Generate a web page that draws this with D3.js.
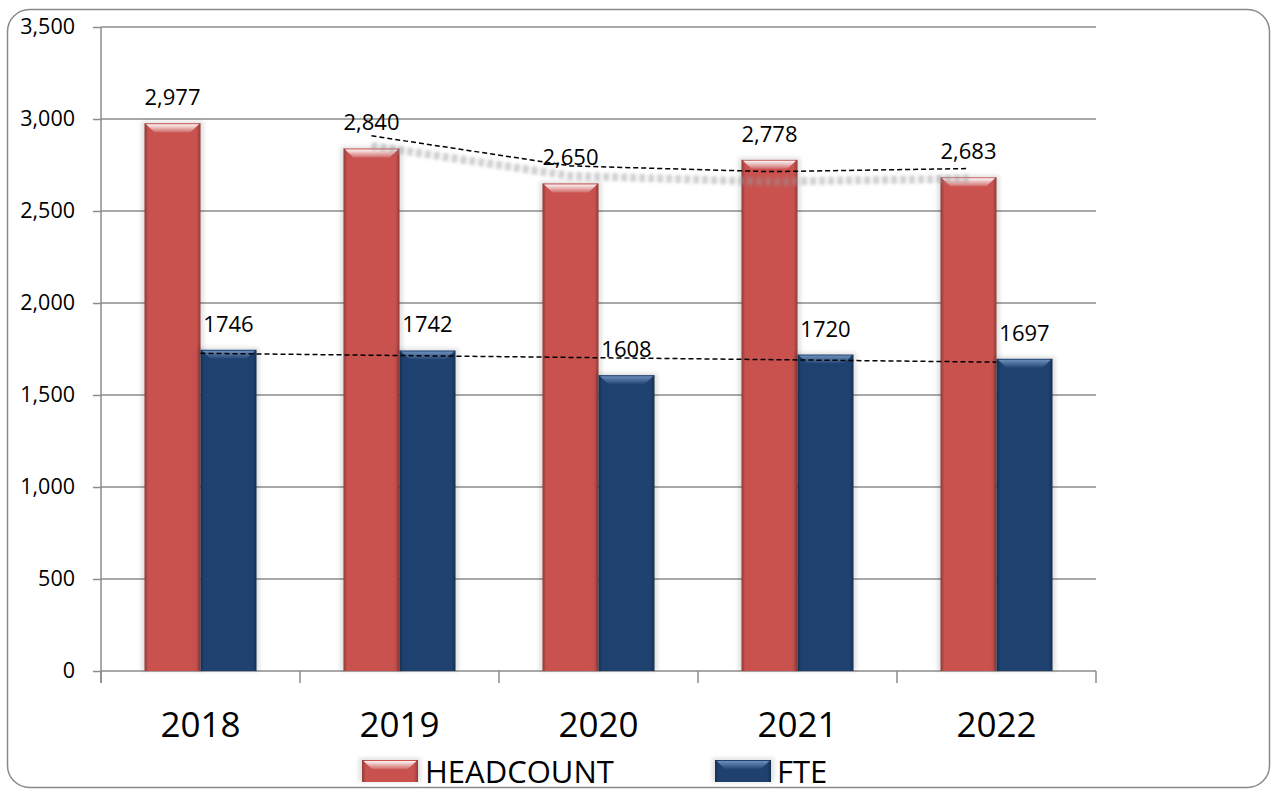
<!DOCTYPE html>
<html>
<head>
<meta charset="utf-8">
<script src="https://cdn.jsdelivr.net/npm/d3@7"></script>
<style>
  html, body { margin: 0; padding: 0; background: #ffffff; }
  svg { display: block; }
  text { font-family: "Open Sans", "Noto Sans", sans-serif; fill: #000; }
</style>
</head>
<body>
<svg id="chart" width="1273" height="791"></svg>
<script>
// ---- data ----
const years = ["2018", "2019", "2020", "2021", "2022"];
const headcount = [2977, 2840, 2650, 2778, 2683];
const fte = [1746, 1742, 1608, 1720, 1697];
const yTicks = [0, 500, 1000, 1500, 2000, 2500, 3000, 3500];
const seriesNames = ["HEADCOUNT", "FTE"];

const W = 1273, H = 791;
const plot = { left: 101, right: 1096, top: 27, bottom: 671 };

const svg = d3.select("#chart");
const defs = svg.append("defs");

// gradients
function hGrad(id, edge, mid) {
  const g = defs.append("linearGradient").attr("id", id).attr("x1", "0").attr("x2", "1").attr("y1", "0").attr("y2", "0");
  [[0, edge], [0.07, mid], [0.93, mid], [1, edge]].forEach(([o, c]) =>
    g.append("stop").attr("offset", o).attr("stop-color", c));
}
hGrad("redGrad", "#8f3b39", "#c9524f");
hGrad("blueGrad", "#15304f", "#1f4170");
function vGrad(id, c, a1, a2) {
  const g = defs.append("linearGradient").attr("id", id).attr("x1", "0").attr("x2", "0").attr("y1", "0").attr("y2", "1");
  g.append("stop").attr("offset", 0).attr("stop-color", c).attr("stop-opacity", a1);
  g.append("stop").attr("offset", 1).attr("stop-color", c).attr("stop-opacity", a2);
}
vGrad("redBevel", "#ffffff", 0.95, 0.15);
vGrad("blueBevel", "#8fb0dc", 0.7, 0.05);
defs.append("filter").attr("id", "blur").attr("x", "-20%").attr("y", "-20%").attr("width", "140%").attr("height", "140%")
  .append("feGaussianBlur").attr("stdDeviation", 2);
defs.append("filter").attr("id", "blurS").attr("x", "-20%").attr("y", "-50%").attr("width", "140%").attr("height", "200%")
  .append("feGaussianBlur").attr("stdDeviation", 1.6);

// outer border
svg.append("rect")
  .attr("x", 7.5).attr("y", 9.5).attr("width", 1262).attr("height", 778)
  .attr("rx", 22).attr("ry", 22)
  .attr("fill", "#fff").attr("stroke", "#8a8a8a").attr("stroke-width", 1.5);

// scales
const x = d3.scaleBand().domain(years).range([plot.left, plot.right])
  .paddingInner(0.437).paddingOuter(0.437 / 2);
const xs = d3.scaleBand().domain(seriesNames).range([0, x.bandwidth()]);
const y = d3.scaleLinear().domain([0, 3500]).range([plot.bottom, plot.top]);
const xc = d3.scaleBand().domain(years).range([plot.left, plot.right]); // category slots

// grid lines
svg.append("g").selectAll("line").data(yTicks.filter(d => d > 0)).join("line")
  .attr("x1", plot.left).attr("x2", plot.right)
  .attr("y1", d => y(d)).attr("y2", d => y(d))
  .attr("stroke", "#8c8c8c").attr("stroke-width", 1.5);

// y axis
const yAxis = svg.append("g").attr("transform", `translate(${plot.left},0)`)
  .call(d3.axisLeft(y).tickValues(yTicks).tickFormat(d3.format(",")).tickSize(8).tickPadding(18));
yAxis.select(".domain").attr("stroke", "#8c8c8c").attr("stroke-width", 1.5).attr("d", `M0,${plot.top}V${plot.bottom + 12}`);
yAxis.selectAll(".tick line").attr("stroke", "#8c8c8c").attr("stroke-width", 1.5);
yAxis.selectAll(".tick text").attr("font-size", 21.5).attr("font-family", "Open Sans").attr("fill", "#000");

// x axis
const boundaries = years.map(d => xc(d)).concat([plot.right]);
svg.append("line").attr("x1", plot.left).attr("x2", plot.right).attr("y1", plot.bottom).attr("y2", plot.bottom)
  .attr("stroke", "#8c8c8c").attr("stroke-width", 1.5);
svg.append("g").selectAll("line").data(boundaries).join("line")
  .attr("x1", d => d).attr("x2", d => d).attr("y1", plot.bottom).attr("y2", plot.bottom + 12)
  .attr("stroke", "#8c8c8c").attr("stroke-width", 1.5);
svg.append("g").selectAll("text").data(years).join("text")
  .attr("x", d => xc(d) + xc.bandwidth() / 2).attr("y", 737)
  .attr("text-anchor", "middle").attr("font-size", 35).text(d => d);

// bar drawing
function drawBar(g, bx, by, bw, bh, kind) {
  g.append("rect").attr("x", bx - 3).attr("y", by - 2).attr("width", bw + 6).attr("height", bh + 2)
    .attr("fill", "#000").attr("opacity", 0.12).attr("filter", "url(#blur)");
  g.append("rect").attr("x", bx).attr("y", by).attr("width", bw).attr("height", bh)
    .attr("fill", kind === "red" ? "url(#redGrad)" : "url(#blueGrad)");
  const bev = Math.min(9, bh / 2);
  g.append("path")
    .attr("d", `M${bx + 1.5},${by + 1}H${bx + bw - 1.5}L${bx + bw - 10},${by + bev}H${bx + 10}Z`)
    .attr("fill", kind === "red" ? "url(#redBevel)" : "url(#blueBevel)");
}

const bars = svg.append("g");
years.forEach((yr, i) => {
  const vals = [headcount[i], fte[i]];
  seriesNames.forEach((s, j) => {
    const bx = x(yr) + xs(s);
    const by = y(vals[j]);
    drawBar(bars, bx, by, xs.bandwidth(), y(0) - by, j === 0 ? "red" : "blue");
  });
});

// trendlines
// headcount: 2-period moving average at headcount bar centres
const maPts = headcount.slice(1).map((v, k) => {
  const i = k + 1;
  return [x(years[i]) + xs("HEADCOUNT") + xs.bandwidth() / 2, y((headcount[i - 1] + headcount[i]) / 2)];
});
const line = d3.line();
svg.append("path").attr("d", line(maPts)).attr("transform", "translate(0,10)")
  .attr("fill", "none").attr("stroke", "#9a9a9a").attr("stroke-width", 8).attr("stroke-opacity", 0.45)
  .attr("stroke-dasharray", "6,3").attr("filter", "url(#blurS)");
svg.append("path").attr("d", line(maPts))
  .attr("fill", "none").attr("stroke", "#000").attr("stroke-width", 1.5).attr("stroke-dasharray", "5,3");

// FTE: linear regression at category centres
const n = fte.length;
const mx = d3.mean(d3.range(n)), my = d3.mean(fte);
const slope = d3.sum(d3.range(n), i => (i - mx) * (fte[i] - my)) / d3.sum(d3.range(n), i => (i - mx) ** 2);
const icpt = my - slope * mx;
const linPts = [0, n - 1].map(i => [xc(years[i]) + xc.bandwidth() / 2, y(icpt + slope * i)]);
svg.append("path").attr("d", line(linPts))
  .attr("fill", "none").attr("stroke", "#000").attr("stroke-width", 1.5).attr("stroke-dasharray", "5,3");

// data labels
const labels = svg.append("g").attr("font-size", 22);
years.forEach((yr, i) => {
  labels.append("text").attr("x", x(yr) + xs("HEADCOUNT") + xs.bandwidth() / 2).attr("y", y(headcount[i]) - 18)
    .attr("text-anchor", "middle").attr("font-size", 22).text(d3.format(",")(headcount[i]));
  labels.append("text").attr("x", x(yr) + xs("FTE") + xs.bandwidth() / 2).attr("y", y(fte[i]) - 18)
    .attr("text-anchor", "middle").attr("font-size", 22).text(fte[i]);
});

// legend
const legend = svg.append("g");
const legendItems = [
  { name: seriesNames[0], kind: "red", sx: 362, tx: 425 },
  { name: seriesNames[1], kind: "blue", sx: 715, tx: 777 }
];
legendItems.forEach(it => {
  drawBar(legend, it.sx, 760, 56, 22, it.kind);
  legend.append("text").attr("x", it.tx).attr("y", 783).attr("font-size", 31).text(it.name);
});
</script>
</body>
</html>
